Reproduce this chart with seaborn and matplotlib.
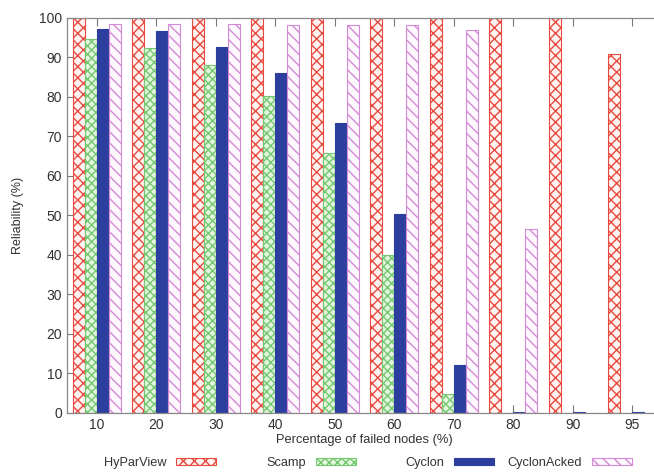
import pandas as pd
import matplotlib
matplotlib.use('Agg')
import matplotlib.pyplot as plt
from matplotlib.patches import Patch
import seaborn as sns

failed = ['10', '20', '30', '40', '50', '60', '70', '80', '90', '95']
protocols = ['HyParView', 'Scamp', 'Cyclon', 'CyclonAcked']

hyparview = [100, 100, 100, 100, 100, 100, 100, 100, 100, 91]
scamp = [94.8, 92.5, 88.2, 80.3, 65.7, 39.9, 4.7, 0, 0, 0]
cyclon = [97.3, 96.6, 92.6, 86.1, 73.5, 50.3, 12.0, 0.3, 0.3, 0.3]
cyclon_acked = [98.4, 98.4, 98.4, 98.3, 98.2, 98.2, 96.9, 46.6, 0, 0]

values = {'HyParView': hyparview, 'Scamp': scamp,
          'Cyclon': cyclon, 'CyclonAcked': cyclon_acked}

rows = []
for p in protocols:
    for f, v in zip(failed, values[p]):
        rows.append({'failed': f, 'protocol': p, 'reliability': v})
df = pd.DataFrame(rows)

# (face, edge, hatch) per series, gnuplot look
styles = {
    'HyParView': ('#fff4f2', '#e84a40', 'xxx'),
    'Scamp': ('#e4f5de', '#74c870', 'xxxx'),
    'Cyclon': ('#2c3f9e', '#2c3f9e', ''),
    'CyclonAcked': ('#fdf8fd', '#d48ad6', '\\\\\\'),
}

sns.set_style('ticks')
plt.rcParams['font.family'] = ['Liberation Sans', 'DejaVu Sans']
plt.rcParams['hatch.linewidth'] = 1.0

fig = plt.figure(figsize=(6.54, 4.73), dpi=100)
ax = fig.add_axes([67 / 654, 1 - 412.7 / 473, 595 / 654, 394.7 / 473])

sns.barplot(data=df, x='failed', y='reliability', hue='protocol',
            order=failed, hue_order=protocols, width=0.8,
            palette=['white'] * 4, legend=False, ax=ax)

for cont, p in zip(ax.containers, protocols):
    face, edge, hatch = styles[p]
    for bar in cont:
        bar.set_facecolor(face)
        bar.set_edgecolor(edge)
        bar.set_hatch(hatch)
        bar.set_linewidth(0.8)

ax.set_ylim(0, 100)
ax.set_xlim(-0.5, 9.5)
ax.set_yticks(range(0, 101, 10))
ax.tick_params(direction='in', top=True, right=True, length=6,
               color='#777777', labelcolor='#333333', labelsize=10)
for s in ax.spines.values():
    s.set_visible(True)
    s.set_color('#888888')
    s.set_linewidth(0.9)

ax.set_xlabel('Percentage of failed nodes (%)', fontsize=9.3, color='#333333', labelpad=2)
ax.set_ylabel('Reliability (%)', fontsize=9, color='#333333', labelpad=11)

# gnuplot style key: text right-aligned before its sample, fixed columns
key_ends = [216, 356, 494, 632]
for p, xe in zip(protocols, key_ends):
    face, edge, hatch = styles[p]
    h = Patch(facecolor=face, edgecolor=edge, hatch=hatch, linewidth=0.8)
    fig.legend([h], [p], loc='center right', bbox_to_anchor=(xe / 654, 1 - 463 / 473),
               frameon=False, markerfirst=False, handlelength=3.1,
               handleheight=0.4, handletextpad=0.8, borderpad=0,
               borderaxespad=0, fontsize=9.2, labelcolor='#333333')

fig.savefig('out.png', dpi=100)
